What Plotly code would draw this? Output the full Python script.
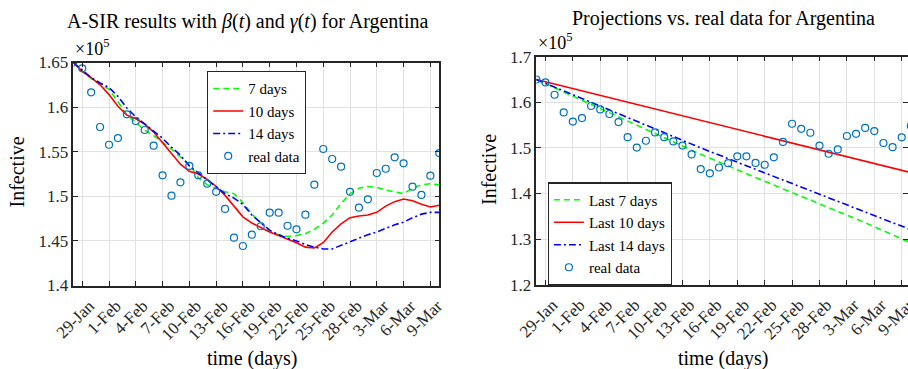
import pandas as pd
import plotly.graph_objects as go

W, H = 908, 369

# Daily dates shown on both panels (28-Jan .. 10-Mar)
dates = pd.date_range("2021-01-28", "2021-03-10", freq="D")

# Active infective counts (x 1e5)
real_data = [1.650, 1.6435, 1.6166, 1.5777, 1.5578, 1.5653, 1.5919, 1.5844, 1.5743, 1.5567,
             1.5235, 1.5007, 1.5157, 1.5340, 1.5235, 1.5141, 1.5050, 1.4858, 1.4536, 1.4443,
             1.4570, 1.4664, 1.4816, 1.4816, 1.4670, 1.4630, 1.4794, 1.5130, 1.5530, 1.5418,
             1.5332, 1.5050, 1.4872, 1.4966, 1.5261, 1.5309, 1.5437, 1.5370, 1.5108, 1.5015,
             1.5231, 1.5485]

# A-SIR fits with beta(t), gamma(t) using 7/10/14-day windows (x 1e5)
fit_7 = [1.650, 1.640, 1.632, 1.626, 1.620, 1.606, 1.591, 1.583, 1.574, 1.568,
         1.561, 1.553, 1.544, 1.536, 1.521, 1.513, 1.509, 1.505, 1.503, 1.493,
         1.480, 1.470, 1.461, 1.457, 1.455, 1.456, 1.458, 1.463, 1.470, 1.479,
         1.492, 1.503, 1.509, 1.511, 1.510, 1.507, 1.505, 1.503, 1.509, 1.513,
         1.514, 1.513]
fit_10 = [1.650, 1.640, 1.633, 1.625, 1.614, 1.601, 1.591, 1.587, 1.581, 1.572,
          1.560, 1.548, 1.536, 1.528, 1.525, 1.519, 1.511, 1.501, 1.489, 1.477,
          1.470, 1.465, 1.460, 1.456, 1.452, 1.448, 1.443, 1.442, 1.448, 1.460,
          1.469, 1.476, 1.478, 1.479, 1.482, 1.489, 1.494, 1.497, 1.495, 1.491,
          1.488, 1.490]
fit_14 = [1.650, 1.642, 1.633, 1.627, 1.622, 1.612, 1.599, 1.589, 1.581, 1.572,
          1.565, 1.555, 1.546, 1.534, 1.526, 1.518, 1.510, 1.503, 1.498, 1.491,
          1.479, 1.470, 1.462, 1.457, 1.453, 1.450, 1.446, 1.443, 1.441, 1.441,
          1.445, 1.449, 1.453, 1.457, 1.460, 1.464, 1.468, 1.471, 1.476, 1.480,
          1.482, 1.482]

# Projections from the last 7/10/14 days (x 1e5)
proj_dates = ["2021-01-28", "2021-02-03", "2021-02-09", "2021-02-15",
              "2021-02-21", "2021-02-27", "2021-03-05", "2021-03-10"]
proj_7 = [1.650, 1.595, 1.541, 1.486, 1.435, 1.385, 1.336, 1.2915]
proj_10 = [1.650, 1.620, 1.590, 1.560, 1.531, 1.501, 1.471, 1.446]
proj_14 = [1.650, 1.600, 1.550, 1.500, 1.453, 1.406, 1.360, 1.3205]

tick_dates = ["2021-01-29", "2021-02-01", "2021-02-04", "2021-02-07", "2021-02-10",
              "2021-02-13", "2021-02-16", "2021-02-19", "2021-02-22", "2021-02-25",
              "2021-02-28", "2021-03-03", "2021-03-06", "2021-03-09"]
tick_labels = ["29-Jan", "1-Feb", "4-Feb", "7-Feb", "10-Feb", "13-Feb", "16-Feb",
               "19-Feb", "22-Feb", "25-Feb", "28-Feb", "3-Mar", "6-Mar", "9-Mar"]

left_yticks = [1.4, 1.45, 1.5, 1.55, 1.6, 1.65]
left_ylabels = ["1.4", "1.45", "1.5", "1.55", "1.6", "1.65"]
right_yticks = [1.2, 1.3, 1.4, 1.5, 1.6, 1.7]
right_ylabels = ["1.2", "1.3", "1.4", "1.5", "1.6", "1.7"]

FONT = "'Liberation Serif', 'Times New Roman', Times, 'DejaVu Serif', serif"
INK = "#262626"
GREEN, RED, BLUE, MARK = "#00FF00", "#FF0000", "#0000FF", "#0072BD"
DASH = "6px,4px"
DASHDOT = "7px,3px,2px,3px"


def fx(p):
    return p / W


def fy(p):
    return 1 - p / H


fig = go.Figure()

# ---- left panel: fitted model ----
left_lines = [("7 days", fit_7, GREEN, DASH), ("10 days", fit_10, RED, "solid"),
              ("14 days", fit_14, BLUE, DASHDOT)]
for name, ys, col, dash in left_lines:
    fig.add_trace(go.Scatter(x=dates, y=ys, mode="lines", name=name,
                             line=dict(color=col, width=1.6, dash=dash),
                             xaxis="x", yaxis="y", legend="legend"))
fig.add_trace(go.Scatter(x=dates, y=real_data, mode="markers", name="real data",
                         marker=dict(symbol="circle-open", size=7, color=MARK,
                                     line=dict(width=1.2, color=MARK)),
                         xaxis="x", yaxis="y", legend="legend"))

# ---- right panel: projections ----
right_lines = [("Last 7 days", proj_7, GREEN, DASH), ("Last 10 days", proj_10, RED, "solid"),
               ("Last 14 days", proj_14, BLUE, DASHDOT)]
for name, ys, col, dash in right_lines:
    fig.add_trace(go.Scatter(x=proj_dates, y=ys, mode="lines", name=name,
                             line=dict(color=col, width=1.6, dash=dash),
                             xaxis="x2", yaxis="y2", legend="legend2"))
fig.add_trace(go.Scatter(x=dates, y=real_data, mode="markers", name="real data",
                         marker=dict(symbol="circle-open", size=7, color=MARK,
                                     line=dict(width=1.2, color=MARK)),
                         xaxis="x2", yaxis="y2", legend="legend2"))

axis_common = dict(showline=True, linecolor=INK, linewidth=1.5, mirror="ticks",
                   ticks="inside", ticklen=5, tickwidth=1, tickcolor=INK,
                   showgrid=True, gridcolor="#e2e2e2", gridwidth=1, zeroline=False,
                   tickfont=dict(family=FONT, size=17, color=INK))
xaxis_extra = dict(type="date", tickmode="array", tickvals=tick_dates, ticktext=tick_labels,
                   tickangle=-45, ticklabelshift=7, ticklabelstandoff=2,
                   ticklabeloverflow="allow")
legend_common = dict(xanchor="left", yanchor="top", bgcolor="white", bordercolor=INK,
                     borderwidth=1.2, font=dict(family=FONT, size=15, color="black"),
                     tracegroupgap=0, itemwidth=30)

fig.update_layout(
    width=W, height=H,
    margin=dict(l=0, r=0, t=0, b=0, autoexpand=False),
    paper_bgcolor="white", plot_bgcolor="white",
    font=dict(family=FONT, color=INK),
    xaxis=dict(domain=[fx(73.3), fx(439.3)], range=["2021-01-28", "2021-03-10"],
               anchor="y", **xaxis_extra, **axis_common),
    yaxis=dict(domain=[fy(285.5), fy(62.5)], range=[1.4, 1.65],
               tickmode="array", tickvals=left_yticks, ticktext=left_ylabels,
               anchor="x", **axis_common),
    xaxis2=dict(domain=[fx(536.3), 1.0], range=["2021-01-28", "2021-03-09 16:30"],
                anchor="y2", **xaxis_extra, **axis_common),
    yaxis2=dict(domain=[fy(284.7), fy(56.7)], range=[1.2, 1.7],
                tickmode="array", tickvals=right_yticks, ticktext=right_ylabels,
                anchor="x2", **axis_common),
    legend=dict(x=fx(207), y=fy(71), **legend_common),
    legend2=dict(x=fx(547.7), y=fy(182.3), **legend_common),
    showlegend=True,
)

ann = []


def text(x, y, s, size, angle=0, xanchor="center", yanchor="middle"):
    ann.append(dict(x=fx(x), y=fy(y), xref="paper", yref="paper", text=s,
                    showarrow=False, textangle=angle, xanchor=xanchor, yanchor=yanchor,
                    font=dict(family=FONT, size=size, color="black")))


text(247, 22, "A-SIR results with <i>β</i>(<i>t</i>) and <i>γ</i>(<i>t</i>) for Argentina", 20)
text(723, 18, "Projections vs. real data for Argentina", 20)
text(16.5, 172, "Infective", 20, angle=-90)
text(489, 170, "Infective", 20, angle=-90)
text(252.5, 358, "time (days)", 20)
text(723, 358, "time (days)", 20)
text(73, 61, "×10<sup>5</sup>", 18, xanchor="left", yanchor="bottom")
text(536, 55, "×10<sup>5</sup>", 18, xanchor="left", yanchor="bottom")

fig.update_layout(annotations=ann)

fig.write_html("out.html")
